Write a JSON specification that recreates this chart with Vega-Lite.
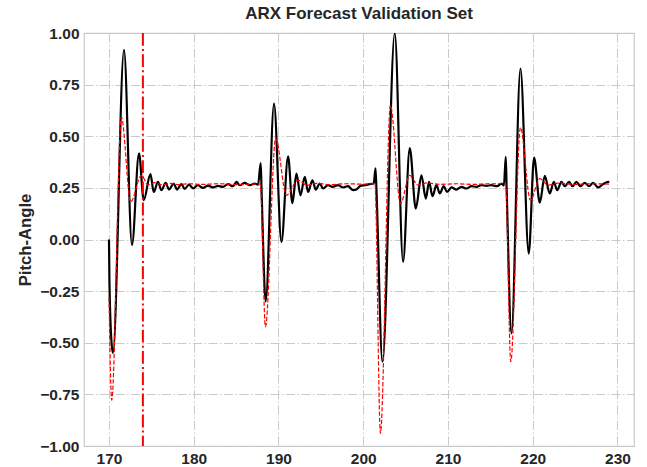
{
  "$schema": "https://vega.github.io/schema/vega-lite/v6.json",
  "width": 550,
  "height": 413,
  "autosize": {"type": "none"},
  "padding": {"left": 84, "top": 33, "right": 13, "bottom": 21},
  "background": "white",
  "title": {
    "text": "ARX Forecast Validation Set",
    "frame": "group",
    "anchor": "middle",
    "offset": 3,
    "font": "Liberation Sans",
    "fontSize": 17,
    "fontWeight": "bold",
    "color": "#262626"
  },
  "config": {
    "view": {"stroke": "#cccccc", "strokeWidth": 1.25},
    "axis": {
      "domain": false,
      "ticks": false,
      "grid": true,
      "gridColor": "#c4c4c4",
      "gridWidth": 0.9,
      "gridDash": [9, 2.5, 1.5, 2.5],
      "labelFont": "Liberation Sans",
      "labelFontSize": 15.5,
      "labelFontWeight": "bold",
      "labelColor": "#262626",
      "titleFont": "Liberation Sans",
      "titleFontSize": 16.7,
      "titleFontWeight": "bold",
      "titleColor": "#262626"
    }
  },
  "datasets": {
    "actual": [
      {"t": 170.0, "v": 0.0}, {"t": 170.05, "v": -0.2}, {"t": 170.3, "v": -0.5}, {"t": 170.47, "v": -0.55},
      {"t": 171.77, "v": 0.918}, {"t": 172.71, "v": -0.027}, {"t": 173.54, "v": 0.417}, {"t": 174.1, "v": 0.19},
      {"t": 174.89, "v": 0.317}, {"t": 175.28, "v": 0.23}, {"t": 175.78, "v": 0.279}, {"t": 176.18, "v": 0.239},
      {"t": 176.69, "v": 0.274}, {"t": 177.08, "v": 0.242}, {"t": 177.64, "v": 0.271}, {"t": 178.03, "v": 0.242},
      {"t": 178.54, "v": 0.268}, {"t": 178.93, "v": 0.245}, {"t": 179.44, "v": 0.266}, {"t": 179.91, "v": 0.248},
      {"t": 180.5, "v": 0.263}, {"t": 181.09, "v": 0.25}, {"t": 181.68, "v": 0.261}, {"t": 182.27, "v": 0.252},
      {"t": 182.86, "v": 0.26}, {"t": 183.45, "v": 0.255}, {"t": 184.04, "v": 0.268}, {"t": 184.63, "v": 0.258},
      {"t": 185.04, "v": 0.279}, {"t": 185.43, "v": 0.263}, {"t": 186.02, "v": 0.274}, {"t": 186.6, "v": 0.263},
      {"t": 187.2, "v": 0.271}, {"t": 187.59, "v": 0.265}, {"t": 187.9, "v": 0.37}, {"t": 188.0, "v": 0.24},
      {"t": 188.49, "v": -0.3}, {"t": 189.47, "v": 0.658}, {"t": 190.35, "v": -0.012}, {"t": 191.13, "v": 0.403},
      {"t": 191.64, "v": 0.176}, {"t": 192.12, "v": 0.319}, {"t": 192.59, "v": 0.214}, {"t": 193.1, "v": 0.303},
      {"t": 193.49, "v": 0.23}, {"t": 194.0, "v": 0.287}, {"t": 194.4, "v": 0.242}, {"t": 194.87, "v": 0.271},
      {"t": 195.26, "v": 0.247}, {"t": 195.85, "v": 0.263}, {"t": 196.37, "v": 0.255}, {"t": 197.03, "v": 0.263},
      {"t": 197.62, "v": 0.252}, {"t": 198.21, "v": 0.258}, {"t": 198.8, "v": 0.239}, {"t": 199.2, "v": 0.242},
      {"t": 199.59, "v": 0.258}, {"t": 200.18, "v": 0.263}, {"t": 200.77, "v": 0.268}, {"t": 201.24, "v": 0.271},
      {"t": 201.45, "v": 0.345}, {"t": 201.55, "v": 0.25}, {"t": 202.27, "v": -0.592}, {"t": 203.72, "v": 1.0},
      {"t": 204.7, "v": -0.108}, {"t": 205.49, "v": 0.443}, {"t": 206.2, "v": 0.15}, {"t": 206.87, "v": 0.311},
      {"t": 207.38, "v": 0.198}, {"t": 207.77, "v": 0.279}, {"t": 208.17, "v": 0.21}, {"t": 208.64, "v": 0.263},
      {"t": 209.03, "v": 0.223}, {"t": 209.5, "v": 0.258}, {"t": 209.89, "v": 0.23}, {"t": 210.41, "v": 0.252},
      {"t": 211.0, "v": 0.242}, {"t": 211.59, "v": 0.255}, {"t": 212.18, "v": 0.247}, {"t": 212.77, "v": 0.258},
      {"t": 213.36, "v": 0.255}, {"t": 213.95, "v": 0.263}, {"t": 214.54, "v": 0.26}, {"t": 215.13, "v": 0.263},
      {"t": 215.79, "v": 0.258}, {"t": 216.31, "v": 0.271}, {"t": 216.6, "v": 0.262}, {"t": 216.82, "v": 0.4},
      {"t": 216.92, "v": 0.25}, {"t": 217.49, "v": -0.455}, {"t": 218.55, "v": 0.828}, {"t": 219.53, "v": -0.068},
      {"t": 220.16, "v": 0.397}, {"t": 220.83, "v": 0.178}, {"t": 221.42, "v": 0.308}, {"t": 222.01, "v": 0.223},
      {"t": 222.49, "v": 0.279}, {"t": 222.88, "v": 0.239}, {"t": 223.39, "v": 0.279}, {"t": 223.78, "v": 0.258},
      {"t": 224.29, "v": 0.279}, {"t": 224.69, "v": 0.258}, {"t": 225.16, "v": 0.279}, {"t": 225.64, "v": 0.258},
      {"t": 226.14, "v": 0.274}, {"t": 226.65, "v": 0.258}, {"t": 227.12, "v": 0.274}, {"t": 227.71, "v": 0.252},
      {"t": 228.3, "v": 0.268}, {"t": 228.9, "v": 0.279}, {"t": 229.0, "v": 0.275}
    ],
    "forecast": [
      {"t": 170.0, "v": -0.28}, {"t": 170.32, "v": -0.778}, {"t": 171.46, "v": 0.593}, {"t": 172.56, "v": 0.182},
      {"t": 173.82, "v": 0.311}, {"t": 174.6, "v": 0.265}, {"t": 175.4, "v": 0.275}, {"t": 176.3, "v": 0.265},
      {"t": 177.2, "v": 0.272}, {"t": 178.2, "v": 0.266}, {"t": 179.5, "v": 0.27}, {"t": 181.0, "v": 0.267},
      {"t": 183.0, "v": 0.27}, {"t": 185.0, "v": 0.266}, {"t": 187.0, "v": 0.268}, {"t": 187.85, "v": 0.268},
      {"t": 188.46, "v": -0.423}, {"t": 189.67, "v": 0.489}, {"t": 190.94, "v": 0.214}, {"t": 192.31, "v": 0.287},
      {"t": 193.4, "v": 0.262}, {"t": 194.5, "v": 0.272}, {"t": 196.0, "v": 0.266}, {"t": 198.0, "v": 0.27},
      {"t": 200.0, "v": 0.268}, {"t": 201.38, "v": 0.27}, {"t": 202.03, "v": -0.939}, {"t": 203.21, "v": 0.65},
      {"t": 204.39, "v": 0.174}, {"t": 205.49, "v": 0.311}, {"t": 206.47, "v": 0.263}, {"t": 207.5, "v": 0.274},
      {"t": 209.0, "v": 0.267}, {"t": 211.0, "v": 0.27}, {"t": 213.0, "v": 0.267}, {"t": 215.0, "v": 0.27},
      {"t": 216.8, "v": 0.27}, {"t": 217.41, "v": -0.592}, {"t": 218.55, "v": 0.542}, {"t": 219.73, "v": 0.19},
      {"t": 220.83, "v": 0.295}, {"t": 221.81, "v": 0.263}, {"t": 223.0, "v": 0.273}, {"t": 225.0, "v": 0.267},
      {"t": 227.0, "v": 0.27}, {"t": 229.0, "v": 0.268}
    ],
    "marker": [{"t": 174}]
  },
  "layer": [
    {
      "data": {"name": "actual"},
      "mark": {"type": "line", "color": "#000000", "strokeWidth": 2.2, "interpolate": "monotone", "clip": true},
      "encoding": {
        "x": {
          "field": "t", "type": "quantitative",
          "scale": {"domain": [167.05, 231.95], "nice": false, "zero": false},
          "axis": {"values": [170, 180, 190, 200, 210, 220, 230], "title": null, "labelPadding": 5, "format": "d"}
        },
        "y": {
          "field": "v", "type": "quantitative",
          "scale": {"domain": [-1, 1], "nice": false, "zero": false},
          "axis": {
            "values": [-1, -0.75, -0.5, -0.25, 0, 0.25, 0.5, 0.75, 1],
            "format": ".2f",
            "title": "Pitch-Angle",
            "labelPadding": 5,
            "titleX": -59,
            "titleY": 206.5,
            "titleAlign": "center",
            "titleBaseline": "middle",
            "titleAngle": -90
          }
        }
      }
    },
    {
      "data": {"name": "forecast"},
      "mark": {"type": "line", "color": "#ff0000", "strokeWidth": 1.2, "strokeDash": [4.4, 1.9], "interpolate": "monotone", "clip": true},
      "encoding": {
        "x": {"field": "t", "type": "quantitative"},
        "y": {"field": "v", "type": "quantitative"}
      }
    },
    {
      "data": {"name": "marker"},
      "mark": {"type": "rule", "color": "#ff0000", "strokeWidth": 2, "strokeDash": [12.8, 3.2, 2, 3.2]},
      "encoding": {
        "x": {"field": "t", "type": "quantitative"}
      }
    }
  ]
}
